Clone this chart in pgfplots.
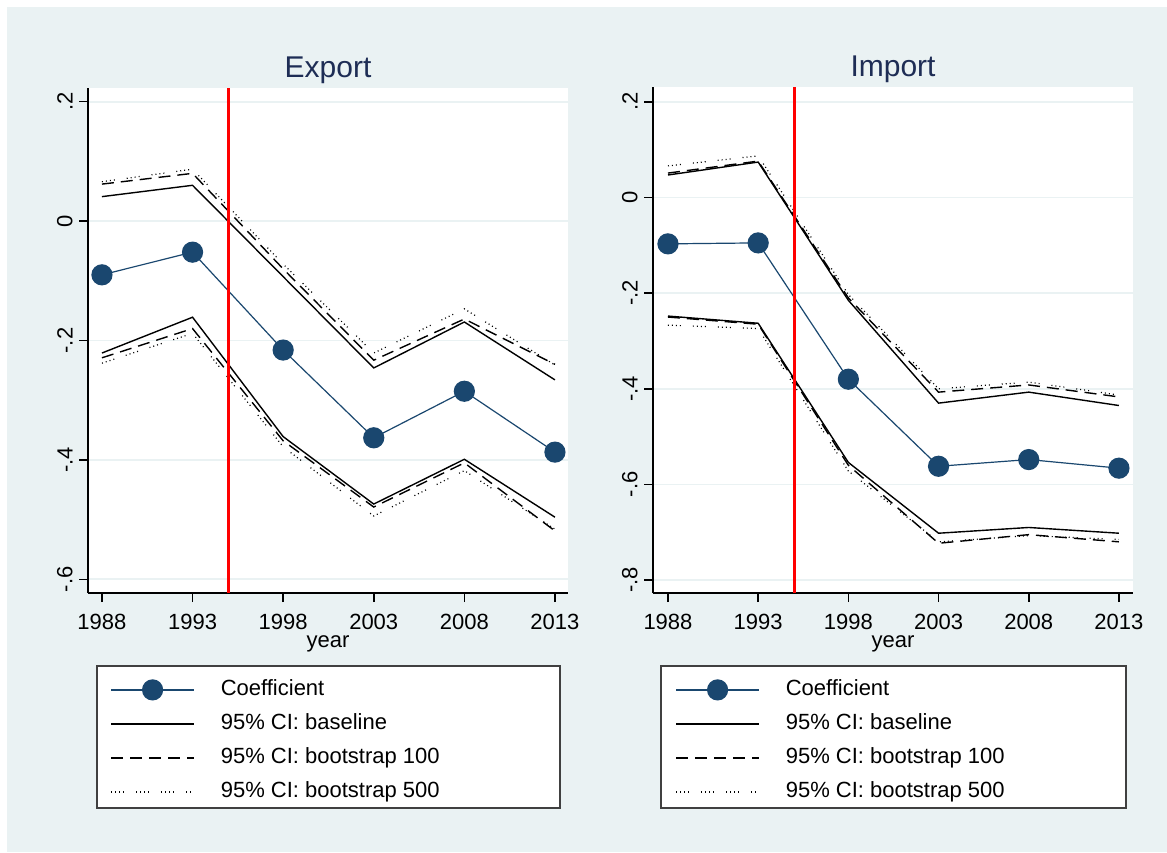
\documentclass[border=0pt]{standalone}
\usepackage{fontspec}
\setmainfont{Liberation Sans}
\usepackage{pgfplots}
\pgfplotsset{compat=1.18}

\definecolor{stbg}{RGB}{234,242,243}
\definecolor{stgrid}{RGB}{234,242,243}
\definecolor{stnavy}{RGB}{26,71,111}
\definecolor{sttitle}{RGB}{30,45,85}
\definecolor{stframe}{RGB}{64,64,64}

\pgfplotsset{
  stata/.style={
    scale only axis,
    width=240pt,
    axis x line*=bottom, axis y line*=left,
    axis line style={black, line width=0.75pt},
    axis background/.style={fill=white},
    tick align=outside,
    major tick length=4.5pt,
    tick style={black, line width=0.75pt},
    ymajorgrids,
    grid style={stgrid, line width=0.8pt},
    xtick={1988,1993,1998,2003,2008,2013},
    xticklabels={1988,1993,1998,2003,2008,2013},
    font=\fontsize{11}{13}\selectfont,
    xticklabel style={anchor=north, inner sep=0pt},
    xticklabel shift=6pt,
    yticklabel style={rotate=90, anchor=south, inner sep=0pt},
    yticklabel shift=3pt,
    title style={font=\fontsize{15}{18}\selectfont, color=sttitle, anchor=base, at={(0.5,1)}, yshift=-1pt},
    xlabel={year},
    xlabel style={at={(0.5,0)}, anchor=base, yshift=-27pt},
    legend cell align=left,
    legend image code/.code={\draw[mark repeat=2, mark phase=2, ##1] plot coordinates {(0pt,0pt) (20.75pt,0pt) (41.5pt,0pt)};},
    legend style={draw=none, fill=none, at={(0,0)}, anchor=north west,
      xshift=11pt, yshift=-43pt, inner sep=0pt, row sep=6.5pt, column sep=13pt,
      nodes={inner sep=0pt, text height=8pt, text depth=2.5pt},
      font=\fontsize{11}{13}\selectfont},
  },
  coef/.style={stnavy, line width=0.6pt, mark=*, mark size=5pt, mark options={solid, fill=stnavy, draw=stnavy}},
  cibase/.style={black, line width=0.7pt},
  ciboota/.style={black, line width=0.7pt, dash pattern=on 6pt off 3.5pt},
  cibootb/.style={black, line width=0.6pt, dash pattern=on 0.5pt off 1.5pt on 0.5pt off 1.5pt on 0.5pt off 1.5pt on 0.5pt off 6pt},
  cutoff/.style={red, line width=1.5pt, forget plot},
}

\begin{document}
\begin{tikzpicture}
\fill[white] (0,0) rectangle (583.5pt,426pt);
\fill[stbg] (3.5pt,0) rectangle (583.5pt,422.5pt);
% legend frames
\filldraw[fill=white, draw=stframe, line width=1pt] (48.5pt,22pt) rectangle (280pt,93pt);
\filldraw[fill=white, draw=stframe, line width=1pt] (330.5pt,22pt) rectangle (563pt,93pt);

% ---- Export ----
\begin{axis}[stata, at={(44pt,129.5pt)}, anchor=south west, height=252.5pt,
  title={Export},
  xmin=1987.23, xmax=2013.72, ymin=-0.623, ymax=0.223,
  ytick={-0.6,-0.4,-0.2,0,0.2}, yticklabels={-.6,-.4,-.2,0,.2}]
\addplot[coef] coordinates {(1988,-0.090) (1993,-0.052) (1998,-0.216) (2003,-0.363) (2008,-0.285) (2013,-0.387)};
\addlegendentry{Coefficient}
\addplot[cibase] coordinates {(1988,0.041) (1993,0.060) (1998,-0.093) (2003,-0.246) (2008,-0.169) (2013,-0.266)};
\addlegendentry{95\% CI: baseline}
\addplot[ciboota] coordinates {(1988,0.062) (1993,0.080) (1998,-0.080) (2003,-0.233) (2008,-0.164) (2013,-0.240)};
\addlegendentry{95\% CI: bootstrap 100}
\addplot[cibootb] coordinates {(1988,0.066) (1993,0.087) (1998,-0.072) (2003,-0.221) (2008,-0.147) (2013,-0.241)};
\addlegendentry{95\% CI: bootstrap 500}
\addplot[cibase, forget plot] coordinates {(1988,-0.221) (1993,-0.161) (1998,-0.361) (2003,-0.474) (2008,-0.399) (2013,-0.496)};
\addplot[ciboota, forget plot] coordinates {(1988,-0.229) (1993,-0.180) (1998,-0.368) (2003,-0.479) (2008,-0.405) (2013,-0.519)};
\addplot[cibootb, forget plot] coordinates {(1988,-0.238) (1993,-0.188) (1998,-0.378) (2003,-0.494) (2008,-0.418) (2013,-0.516)};
\addplot[cutoff] coordinates {(1995,-0.623) (1995,0.223)};
\end{axis}

% ---- Import ----
\begin{axis}[stata, at={(326.5pt,129.5pt)}, anchor=south west, height=253pt,
  title={Import},
  xmin=1987.17, xmax=2013.78, ymin=-0.827, ymax=0.231,
  ytick={-0.8,-0.6,-0.4,-0.2,0,0.2}, yticklabels={-.8,-.6,-.4,-.2,0,.2}]
\addplot[coef] coordinates {(1988,-0.097) (1993,-0.095) (1998,-0.380) (2003,-0.562) (2008,-0.548) (2013,-0.566)};
\addlegendentry{Coefficient}
\addplot[cibase] coordinates {(1988,0.047) (1993,0.074) (1998,-0.215) (2003,-0.430) (2008,-0.407) (2013,-0.435)};
\addlegendentry{95\% CI: baseline}
\addplot[ciboota] coordinates {(1988,0.051) (1993,0.076) (1998,-0.210) (2003,-0.407) (2008,-0.392) (2013,-0.417)};
\addlegendentry{95\% CI: bootstrap 100}
\addplot[cibootb] coordinates {(1988,0.066) (1993,0.087) (1998,-0.203) (2003,-0.400) (2008,-0.386) (2013,-0.413)};
\addlegendentry{95\% CI: bootstrap 500}
\addplot[cibase, forget plot] coordinates {(1988,-0.248) (1993,-0.263) (1998,-0.554) (2003,-0.702) (2008,-0.690) (2013,-0.702)};
\addplot[ciboota, forget plot] coordinates {(1988,-0.250) (1993,-0.265) (1998,-0.560) (2003,-0.723) (2008,-0.705) (2013,-0.720)};
\addplot[cibootb, forget plot] coordinates {(1988,-0.267) (1993,-0.274) (1998,-0.572) (2003,-0.720) (2008,-0.707) (2013,-0.715)};
\addplot[cutoff] coordinates {(1995,-0.827) (1995,0.231)};
\end{axis}

\pgfresetboundingbox
\path[use as bounding box] (0,0) rectangle (583.5pt,426pt);
\end{tikzpicture}
\end{document}
